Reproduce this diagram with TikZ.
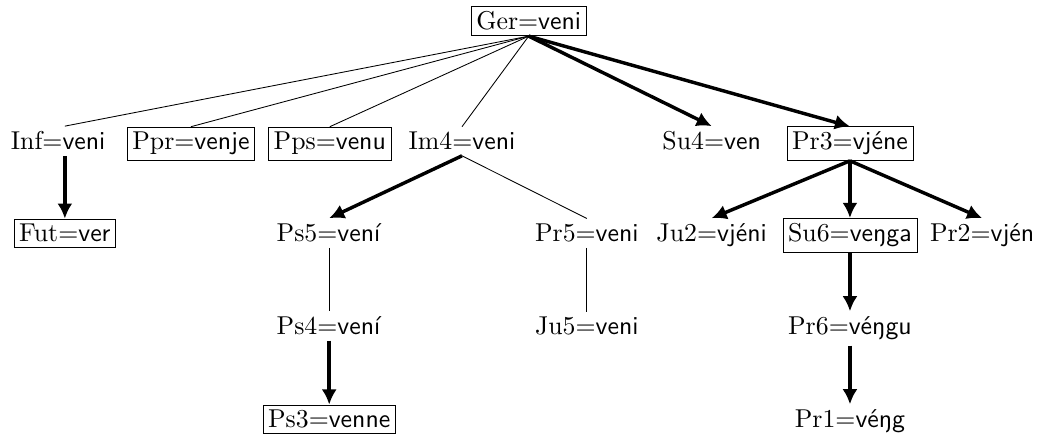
\documentclass[tikz,border=0pt]{standalone}
\usepackage{tikz,graphicx}
\usetikzlibrary{arrows.meta}
\newcommand{\wf}[2]{\scalebox{1.2}{#1$=$\textsf{#2}}}

\begin{document}
\begin{tikzpicture}[>={Latex[length=7pt,width=7pt]},
  every node/.style={anchor=base,inner sep=2.4pt},
  frame/.style={draw},
  arr/.style={line width=1.6pt,->}]
\useasboundingbox (0,0) rectangle (17.11,-7.12);
% root
\node[frame] (ger) at (8.64,-.49){\wf{Ger}{veni}};
% second row
\node (inf) at (.95,-2.45){\wf{Inf}{veni}};
\node[frame] (ppr) at (3.12,-2.45){\wf{Ppr}{venje}};
\node[frame] (pps) at (5.39,-2.45){\wf{Pps}{venu}};
\node (im4) at (7.55,-2.45){\wf{Im4}{veni}};
\node (su4) at (11.63,-2.45){\wf{Su4}{ven}};
\node[frame] (pr3) at (13.89,-2.45){\wf{Pr3}{vjéne}};
% third row
\node[frame] (fut) at (1.06,-3.95){\wf{Fut}{ver}};
\node (ps5) at (5.38,-3.95){\wf{Ps5}{vení}};
\node (pr5) at (9.59,-3.95){\wf{Pr5}{veni}};
\node (ju2) at (11.63,-3.95){\wf{Ju2}{vjéni}};
\node[frame] (su6) at (13.89,-3.95){\wf{Su6}{veŋga}};
\node (pr2) at (16.05,-3.95){\wf{Pr2}{vjén}};
% fourth and fifth rows
\node (ps4) at (5.38,-5.47){\wf{Ps4}{vení}};
\node (ju5) at (9.59,-5.47){\wf{Ju5}{veni}};
\node (pr6) at (13.89,-5.47){\wf{Pr6}{véŋgu}};
\node[frame] (ps3) at (5.38,-6.99){\wf{Ps3}{venne}};
\node (pr1) at (13.89,-6.99){\wf{Pr1}{véŋg}};
% plain links
\draw (ger.south)--(inf.north -| fut.north);
\draw (ger.south)--(ppr.north);
\draw (ger.south)--(pps.north);
\draw (ger.south)--(im4.north);
\draw (im4.south)--(pr5.north);
\draw (ps5.south)--(ps4.north);
\draw (pr5.south)--(ju5.north);
% derivations
\draw[arr] (ger.south)--(su4.north);
\draw[arr] (ger.south)--(pr3.north);
\draw[arr] (inf.south -| fut.north)--(fut.north);
\draw[arr] (im4.south)--(ps5.north);
\draw[arr] (ps4.south)--(ps3.north);
\draw[arr] (pr3.south)--(ju2.north);
\draw[arr] (pr3.south)--(su6.north);
\draw[arr] (pr3.south)--(pr2.north);
\draw[arr] (su6.south)--(pr6.north);
\draw[arr] (pr6.south)--(pr1.north);
\end{tikzpicture}
\end{document}
